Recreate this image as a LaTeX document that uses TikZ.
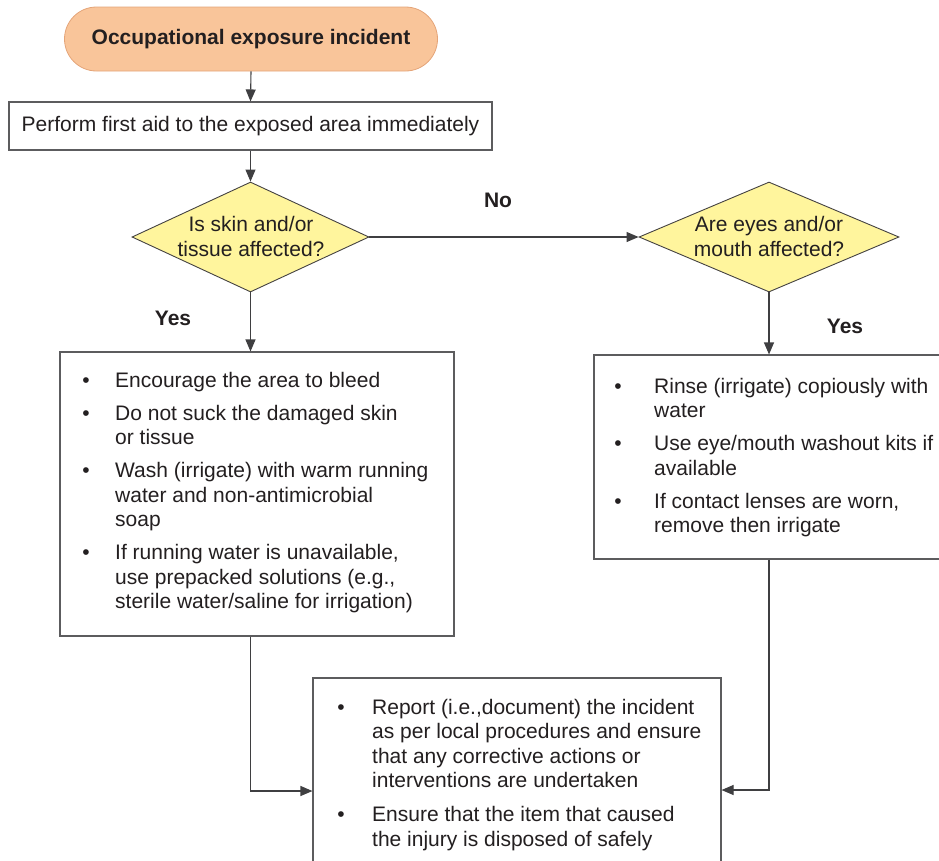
\documentclass[tikz,border=0pt]{standalone}
\usepackage{fontspec}
\setmainfont{Liberation Sans}
\usetikzlibrary{shapes.geometric,arrows.meta}
\definecolor{ink}{HTML}{231F20}
\definecolor{lineg}{HTML}{3F3F41}
\definecolor{peach}{HTML}{F9C59A}
\definecolor{peachb}{HTML}{E4A478}
\definecolor{dyellow}{HTML}{FFF59D}
\newcommand{\mlines}[1]{\begin{tabular}[t]{@{}l@{}}#1\end{tabular}}
\begin{document}
\begin{tikzpicture}[x=1pt,y=-1pt,
  every node/.style={text=ink, font=\fontsize{21}{24.5}\selectfont},
  term/.style={draw=peachb, fill=peach, line width=0.8pt, rounded corners=32pt, minimum width=373pt, minimum height=64pt, inner sep=0pt, font=\fontsize{21}{24.5}\selectfont\bfseries},
  box/.style={draw=lineg!85, line width=1.1pt, fill=white, inner sep=0pt},
  dec/.style={shape=diamond, draw=ink!85, fill=dyellow, line width=0.9pt, inner sep=0pt},
  dtxt/.style={align=center, inner sep=0pt},
  txt/.style={anchor=base west, inner sep=0pt},
  bul/.style={anchor=base, inner sep=0pt},
  lab/.style={font=\fontsize{21}{24.5}\selectfont\bfseries, inner sep=0pt},
  arr/.style={draw=lineg, line width=1.1pt, -{Triangle[length=12pt,width=10pt]}},
]
\clip (0,0) rectangle (939,860);

% shapes
\node[term] (start) at (251,39) {Occupational exposure incident};
\node[box, minimum width=483pt, minimum height=48pt] (aid) at (250.5,126) {Perform first aid to the exposed area immediately};
\node[dec, minimum width=237pt, minimum height=110pt] (d1) at (250.5,237) {};
\node[dtxt] (d1t) at (251,236.5) {Is skin and/or\\tissue affected?};
\node[dec, minimum width=260pt, minimum height=110pt] (d2) at (769,237) {};
\node[dtxt] (d2t) at (769,236.5) {Are eyes and/or\\mouth affected?};
\node[box, minimum width=394pt, minimum height=284pt] (lbox) at (257,494) {};
\node[box, minimum width=366pt, minimum height=204pt] (rbox) at (777,457) {};
\node[box, minimum width=408pt, minimum height=202pt] (bbox) at (517,779) {};

% left box text
\node[bul] (l1b) at (86,387) {•};
\node[txt] (l1) at (115,387) {\mlines{Encourage the area to bleed}};
\node[bul] (l2b) at (86,420) {•};
\node[txt] (l2) at (115,420) {\mlines{Do not suck the damaged skin\\or tissue}};
\node[bul] (l3b) at (86,477.5) {•};
\node[txt] (l3) at (115,477.5) {\mlines{Wash (irrigate) with warm running\\water and non-antimicrobial\\soap}};
\node[bul] (l4b) at (86,559.5) {•};
\node[txt] (l4) at (115,559.5) {\mlines{If running water is unavailable,\\use prepacked solutions (e.g.,\\sterile water/saline for irrigation)}};

% right box text
\node[bul] (r1b) at (618,393) {•};
\node[txt] (r1) at (654,393) {\mlines{Rinse (irrigate) copiously with\\water}};
\node[bul] (r2b) at (618,450.5) {•};
\node[txt] (r2) at (654,450.5) {\mlines{Use eye/mouth washout kits if\\available}};
\node[bul] (r3b) at (618,508) {•};
\node[txt] (r3) at (654,508) {\mlines{If contact lenses are worn,\\remove then irrigate}};

% bottom box text
\node[bul] (b1b) at (341,714) {•};
\node[txt] (b1) at (372,714) {\mlines{Report (i.e.,document) the incident\\as per local procedures and ensure\\that any corrective actions or\\interventions are undertaken}};
\node[bul] (b2b) at (341,821.5) {•};
\node[txt] (b2) at (372,821.5) {\mlines{Ensure that the item that caused\\the injury is disposed of safely}};

% labels
\node[lab] (no) at (498,200) {No};
\node[lab] (yes1) at (173,318) {Yes};
\node[lab] (yes2) at (845,326) {Yes};

% connectors
\coordinate (jl) at ([yshift=-12pt]bbox.west);
\coordinate (jr) at ([yshift=-11pt]bbox.east);
\draw[arr] (start.south) -- (aid.north);
\draw[arr] (aid.south) -- (d1.north);
\draw[arr] (d1.east) -- (d2.west);
\draw[arr] (d1.south) -- (d1.south |- lbox.north);
\draw[arr] (d2.south) -- (d2.south |- rbox.north);
\draw[arr] (d1.south |- lbox.south) |- (jl);
\draw[arr] (d2.south |- rbox.south) |- (jr);
\end{tikzpicture}
\end{document}
